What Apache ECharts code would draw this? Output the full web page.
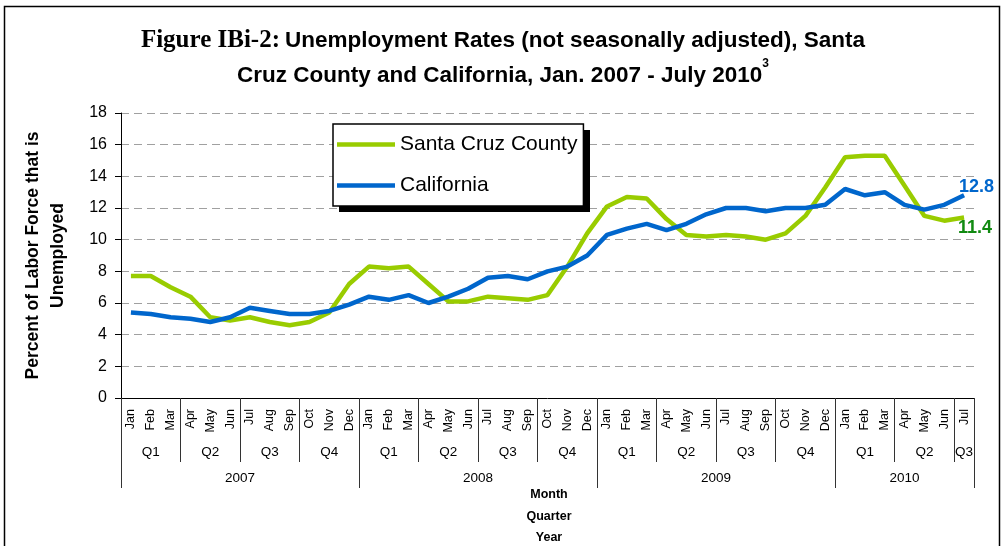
<!DOCTYPE html>
<html><head><meta charset="utf-8">
<script src="https://cdn.jsdelivr.net/npm/echarts@6/dist/echarts.min.js"></script>
<style>html,body{margin:0;padding:0;background:#fff}#c{width:1006px;height:546px}</style>
</head><body><div id="c"></div>
<script>
// ---- data ----
const monthNames = ['Jan','Feb','Mar','Apr','May','Jun','Jul','Aug','Sep','Oct','Nov','Dec'];
const years = ['2007','2008','2009','2010'];
const monthsPerYear = [12, 12, 12, 7];
const quarterNames = ['Q1','Q2','Q3','Q4'];
const santaCruz = [7.7,7.7,7.0,6.4,5.1,4.9,5.1,4.8,4.6,4.8,5.4,7.2,
                   8.3,8.2,8.3,7.2,6.1,6.1,6.4,6.3,6.2,6.5,8.3,10.4,
                   12.1,12.7,12.6,11.3,10.3,10.2,10.3,10.2,10.0,10.4,11.5,13.3,
                   15.2,15.3,15.3,13.4,11.5,11.2,11.4];
const california = [5.4,5.3,5.1,5.0,4.8,5.1,5.7,5.5,5.3,5.3,5.5,5.9,
                    6.4,6.2,6.5,6.0,6.4,6.9,7.6,7.7,7.5,8.0,8.3,9.0,
                    10.3,10.7,11.0,10.6,11.0,11.6,12.0,12.0,11.8,12.0,12.0,12.2,
                    13.2,12.8,13.0,12.2,11.9,12.2,12.8];
const yTicks = {min: 0, max: 18, interval: 2};

// ---- derived category structure ----
const months = [];
monthsPerYear.forEach(n => { for (let i = 0; i < n; i++) months.push(monthNames[i]); });
const N = months.length;
const qBounds = [], qMids = [], qLabelMap = {};
for (let s = 0; s < N; s += 3) {
  qBounds.push(s);
  const e = Math.min(s + 3, N), m = (s + e) / 2;
  qMids.push(m); qLabelMap[m] = quarterNames[(s / 3) % 4];
}
qBounds.push(N);
const yBounds = [0], yMids = [], yLabelMap = {};
let acc = 0;
monthsPerYear.forEach((n, i) => { const m = acc + n / 2; yMids.push(m); yLabelMap[m] = years[i]; acc += n; yBounds.push(acc); });

const FONT = 'Liberation Sans, Arial, sans-serif';
const GREEN = '#99cc00', BLUE = '#0066cc';

const chart = echarts.init(document.getElementById('c'), null, {renderer: 'canvas'});
chart.setOption({
  animation: false,
  backgroundColor: '#fff',
  graphic: [
    {type: 'rect', silent: true, z: -10,
      shape: {x: 4.5, y: 6.5, width: 995, height: 600},
      style: {fill: 'none', stroke: '#000', lineWidth: 1.5}},
    {type: 'rect', silent: true, z: 3,
      shape: {x: 339, y: 130, width: 251, height: 82},
      style: {fill: '#000'}}
  ],
  title: {
    left: 'center', top: 18,
    text: '{s|Figure IBi-2:} {b|Unemployment Rates (not seasonally adjusted), Santa}\n{b|Cruz County and California, Jan. 2007 - July 2010}{sup|3}',
    textStyle: {
      rich: {
        s: {fontFamily: 'Liberation Serif, serif', fontSize: 25, fontWeight: 'bold', color: '#000', lineHeight: 35},
        b: {fontFamily: FONT, fontSize: 22.5, fontWeight: 'bold', color: '#000', lineHeight: 35},
        sup: {fontFamily: FONT, fontSize: 12, fontWeight: 'bold', color: '#000', lineHeight: 35, verticalAlign: 'top', padding: [0, 0, 12, 0]}
      }
    }
  },
  legend: {
    orient: 'vertical', left: 333, top: 124, z: 4,
    padding: [10, 6, 10, 4],
    icon: 'rect', itemWidth: 58, itemHeight: 4.5, itemGap: 20,
    backgroundColor: '#fff', borderColor: '#000', borderWidth: 1.5,
    textStyle: {fontFamily: FONT, fontSize: 21, color: '#000'},
    data: ['Santa Cruz County', 'California']
  },
  grid: {left: 121, right: 32, top: 113, bottom: 148, outerBoundsMode: 'none'},
  xAxis: [
    {type: 'category', data: months, boundaryGap: true, position: 'bottom',
      axisLine: {lineStyle: {color: '#000', width: 1}},
      axisTick: {interval: 0, length: 34, lineStyle: {color: '#333'}},
      axisLabel: {interval: 0, rotate: 90, margin: 11, fontFamily: FONT, fontSize: 12.5, color: '#000'}},
    {type: 'value', min: 0, max: N, position: 'bottom', offset: 0,
      axisLine: {show: false}, splitLine: {show: false},
      axisTick: {show: true, customValues: qBounds, length: 64, lineStyle: {color: '#333'}},
      axisLabel: {customValues: qMids, margin: 47, fontFamily: FONT, fontSize: 13.5, color: '#000',
        formatter: v => qLabelMap[v] || ''}},
    {type: 'value', min: 0, max: N, position: 'bottom', offset: 0,
      axisLine: {show: false}, splitLine: {show: false},
      axisTick: {show: true, customValues: yBounds, length: 90, lineStyle: {color: '#333'}},
      axisLabel: {customValues: yMids, margin: 73, fontFamily: FONT, fontSize: 13.5, color: '#000',
        formatter: v => yLabelMap[v] || ''},
      name: 'Month\nQuarter\nYear', nameLocation: 'middle', nameGap: 86, nameMoveOverlap: false,
      nameTextStyle: {fontFamily: FONT, fontSize: 12.5, fontWeight: 'bold', color: '#000', lineHeight: 21.5, padding: [0, 0, 0, 3]}}
  ],
  yAxis: {
    type: 'value', min: yTicks.min, max: yTicks.max, interval: yTicks.interval,
    axisLine: {show: true, lineStyle: {color: '#000'}},
    axisTick: {show: true, length: 6, lineStyle: {color: '#000'}},
    axisLabel: {fontFamily: FONT, fontSize: 16, color: '#000', margin: 14},
    splitLine: {show: true, lineStyle: {color: '#a0a0a0', type: [8, 5], width: 1}},
    name: 'Percent of Labor Force that is\nUnemployed', nameLocation: 'middle', nameGap: 50, nameMoveOverlap: false,
    nameTextStyle: {fontFamily: FONT, fontSize: 17.5, fontWeight: 'bold', color: '#000', lineHeight: 25}
  },
  series: [
    {name: 'Santa Cruz County', type: 'line', data: santaCruz, xAxisIndex: 0,
      symbol: 'none', lineStyle: {color: GREEN, width: 4.5}, itemStyle: {color: GREEN}, z: 2,
      endLabel: {show: true, formatter: p => p.value.toFixed(1), color: '#118a11', fontFamily: FONT,
        fontSize: 18, fontWeight: 'bold', offset: [-14, 11]}},
    {name: 'California', type: 'line', data: california, xAxisIndex: 0,
      symbol: 'none', lineStyle: {color: BLUE, width: 4.5}, itemStyle: {color: BLUE}, z: 2,
      endLabel: {show: true, formatter: p => p.value.toFixed(1), color: BLUE, fontFamily: FONT,
        fontSize: 18, fontWeight: 'bold', offset: [-13, -8]}}
  ]
});
</script>
</body></html>
